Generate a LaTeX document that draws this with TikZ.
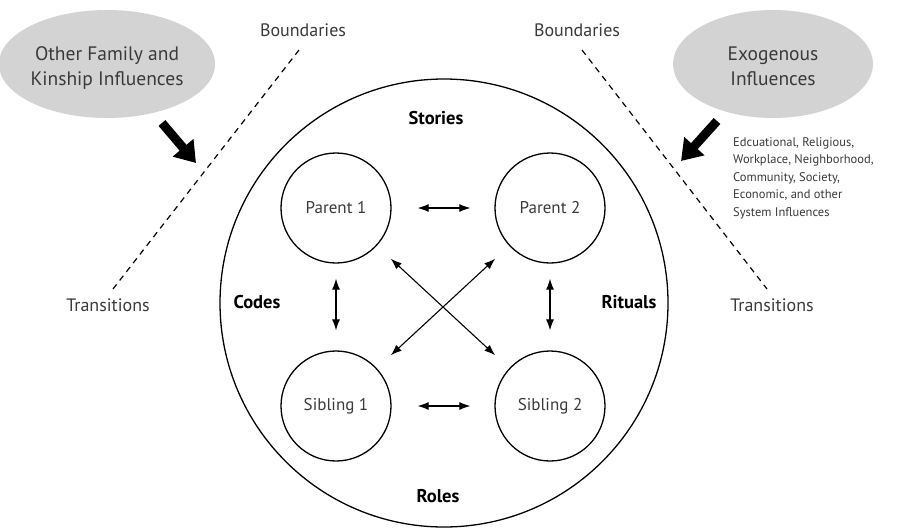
\documentclass[tikz,border=0pt]{standalone}
\usepackage{fontspec}
\setmainfont{PT Sans}
\usetikzlibrary{arrows.meta,shapes.geometric}
\definecolor{inkgray}{HTML}{3A3A3A}
\definecolor{cloudgray}{HTML}{D3D3D3}
\newcommand{\lowertext}[1]{\raisebox{-4pt}[\height][\depth]{\begin{tabular}{@{}c@{}}#1\end{tabular}}}
\begin{document}
\begin{tikzpicture}[x=1pt,y=-1pt,
  member/.style={draw, circle, line width=1.3pt, minimum size=110pt, inner sep=0pt,
                 font=\fontsize{17}{20}\selectfont, text=inkgray},
  theme/.style={font=\bfseries\fontsize{18.5}{22}\selectfont},
  plain/.style={font=\fontsize{18}{21}\selectfont, text=inkgray},
  influence/.style={ellipse, fill=cloudgray, minimum width=200pt, minimum height=108pt,
                    inner sep=0pt, align=center, font=\fontsize{19.5}{25}\selectfont, text=inkgray},
  link/.style={line width=1.1pt, {Latex[length=11pt,width=8pt]}-{Latex[length=11pt,width=8pt]}},
  boundary/.style={line width=1.2pt, dash pattern=on 6pt off 5pt},
  push/.style={line width=9pt, -{Triangle[length=20pt,width=26pt]}}
]
\useasboundingbox (0,0) rectangle (901,528);

% outer family circle and its four themes
\node[draw, circle, line width=1.3pt, minimum size=448pt, inner sep=0pt] (family) at (444,303) {};
\node[theme] (stories) at (436,118) {Stories};
\node[theme] (roles)   at (438,496) {Roles};
\node[theme] (codes)   at (257,302) {Codes};
\node[theme] (rituals) at (629,302) {Rituals};

% family members
\node[member] (p1) at (336,208) {Parent 1};
\node[member] (p2) at (550,208) {Parent 2};
\node[member] (s1) at (336,406) {Sibling 1};
\node[member] (s2) at (550,406) {Sibling 2};

% relations between members
\draw[link, shorten <=26pt, shorten >=24pt] (p1) -- (p2);
\draw[link, shorten <=26pt, shorten >=24pt] (s1) -- (s2);
\draw[link, shorten <=15pt, shorten >=20pt] (p1) -- (s1);
\draw[link, shorten <=15pt, shorten >=20pt] (p2) -- (s2);
\draw[link, shorten <=19pt, shorten >=19pt] (p1) -- (s2);
\draw[link, shorten <=19pt, shorten >=19pt] (p2) -- (s1);

% boundaries and transitions
\node[plain] (bndl) at (303,30) {Boundaries};
\node[plain] (bndr) at (577,30) {Boundaries};
\node[plain] (trl)  at (108,305) {Transitions};
\node[plain] (trr)  at (772,305) {Transitions};
\coordinate (bl1) at (299,50);
\coordinate (bl2) at (113,289);
\coordinate (br1) at (582,50);
\coordinate (br2) at (767,289);
\draw[boundary] (bl1) -- (bl2);
\draw[boundary] (br1) -- (br2);

% outside influences
\node[influence] (kin) at (107,64) {\lowertext{Other Family and\\Kinship Influences}};
\node[influence] (exo) at (773,64) {\lowertext{Exogenous\\Influences}};
\coordinate (kinfrom) at (162,123);
\coordinate (kinto)   at (196,163);
\coordinate (exofrom) at (717,121);
\coordinate (exoto)   at (681,161);
\draw[push] (kinfrom) -- (kinto);
\draw[push] (exofrom) -- (exoto);

\node[anchor=north west, align=left, text=inkgray, font=\fontsize{12.5}{17.5}\selectfont,
      inner sep=0pt] (systems) at (733,137)
  {Edcuational, Religious,\\Workplace, Neighborhood,\\Community, Society,\\Economic, and other\\System Influences};
\end{tikzpicture}
\end{document}
